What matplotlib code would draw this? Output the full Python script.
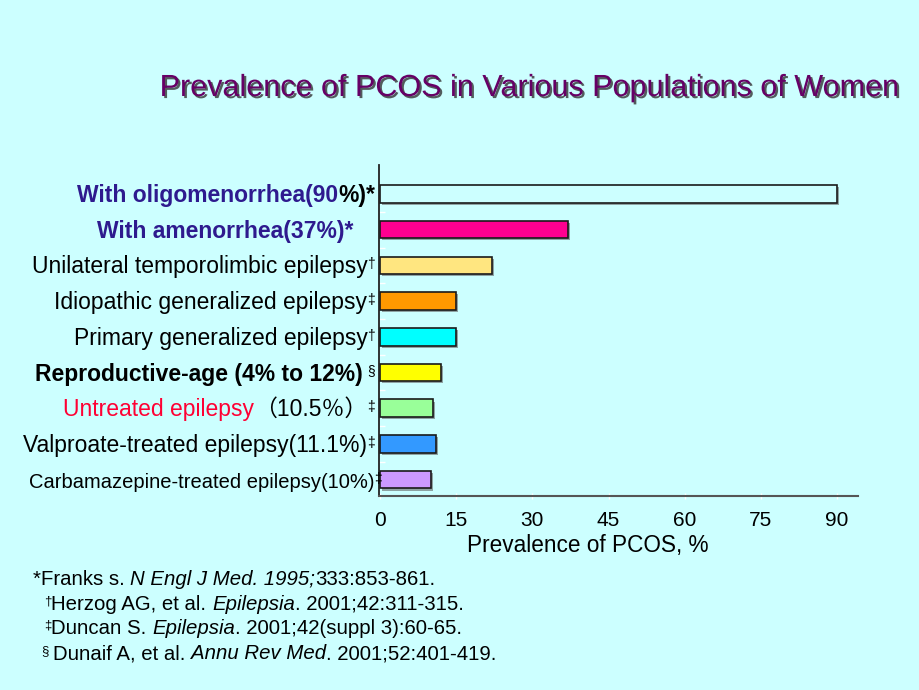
import numpy as np
import matplotlib
matplotlib.use('Agg')
import matplotlib.pyplot as plt
import matplotlib.patheffects as pe
from matplotlib.transforms import IdentityTransform

# chart data, top bar first
categories = [
    "With oligomenorrhea(90%)*",
    "With amenorrhea(37%)*",
    "Unilateral temporolimbic epilepsy",
    "Idiopathic generalized epilepsy",
    "Primary generalized epilepsy",
    "Reproductive-age (4% to 12%)",
    "Untreated epilepsy（10.5％）",
    "Valproate-treated epilepsy(11.1%)",
    "Carbamazepine-treated epilepsy(10%)",
]
refs = ["", "", "†", "‡", "†", "§", "‡", "‡", "‡"]
values = [90, 37, 22, 15, 15, 12, 10.5, 11.1, 10]
bar_colors = ["#CCFFFF", "#FF0090", "#FFE680", "#FF9900", "#00FFFF",
              "#FFFF00", "#99FF99", "#3399FF", "#CC99FF"]
xticks = [0, 15, 30, 45, 60, 75, 90]

title = "Prevalence of PCOS in Various Populations of Women"
xlabel = "Prevalence of PCOS, %"

# footnotes: (text, kind) runs, kind n=normal, i=italic, s=superscript
footnotes = [
    [("*Franks s. ", "n"), ("N Engl J Med. 1995;", "i"), ("333:853-861.", "n")],
    [("†", "s"), ("Herzog AG, et al. ", "n"), ("Epilepsia", "i"), (". 2001;42:311-315.", "n")],
    [("‡", "s"), ("Duncan S. ", "n"), ("Epilepsia", "i"), (". 2001;42(suppl 3):60-65.", "n")],
    [("§ ", "s"), ("Dunaif A, et al. ", "n"), ("Annu Rev Med", "i"), (". 2001;52:401-419.", "n")],
]

BG = "#CCFFFF"
BLUE = "#2E1A8E"
RED = "#FF0033"
FAM = ["Liberation Sans", "Noto Sans CJK SC", "DejaVu Sans"]
W, H = 920, 690

plt.rcParams['font.family'] = FAM

fig = plt.figure(figsize=(W / 100, H / 100), dpi=100, facecolor=BG)
ax = fig.add_axes([379 / W, 194 / H, 479 / W, 331 / H])
ax.set_facecolor(BG)

pos = np.arange(len(categories))
bars = ax.barh(pos, values, height=0.49, color=bar_colors,
               edgecolor="#1a1a1a", linewidth=1.2)
for b in bars:
    b.set_path_effects([pe.SimplePatchShadow(offset=(1.5, -1.5), shadow_rgbFace="#666666", alpha=0.6),
                        pe.Normal()])

ax.set_xlim(-0.2, 94.1)
ax.set_ylim(len(categories) - 1 + 0.457, -0.81)

ax.set_xticks(xticks)
ax.set_yticks(pos)
ax.set_yticklabels([])
ax.set_yticks(pos[:-1] + 0.5, minor=True)
ax.tick_params(axis='y', which='major', length=0)
ax.tick_params(axis='y', which='minor', length=4, width=1, color='white', direction='in')
ax.tick_params(axis='x', direction='inout', length=4, width=1, color='white',
               labelsize=15, pad=9)

for s in ("top", "right"):
    ax.spines[s].set_visible(False)
ax.spines["left"].set_color("#222222")
ax.spines["left"].set_linewidth(1.3)
ax.spines["bottom"].set_color("#555555")
ax.spines["bottom"].set_linewidth(1.5)

ax.set_xlabel(xlabel, fontsize=16.3)
ax.xaxis.label.set_va("baseline")
ax.xaxis.set_label_coords(0.435, -0.168)

# title with drop shadow
fig.text(528 / W, 1 - 96 / H, title, ha="center", va="baseline", fontsize=22,
         color="#660066",
         path_effects=[pe.withSimplePatchShadow(offset=(1.5, -1.5), shadow_rgbFace="#333333", alpha=0.8)])

renderer = fig.canvas.get_renderer()
ident = IdentityTransform()


def adv_width(s, props):
    a = fig.text(0, 0, "x" + s + "x", **props)
    b = fig.text(0, 0, "xx", **props)
    w = a.get_window_extent(renderer).width - b.get_window_extent(renderer).width
    a.remove()
    b.remove()
    return w


def draw_runs(runs, x, y, align="left"):
    # runs: (text, props, rise in px); x, y in display pixels, y = baseline
    widths = [adv_width(t, p) for t, p, _ in runs]
    if align == "right":
        x = x - sum(widths)
    for (t, p, rise), w in zip(runs, widths):
        fig.text(x, y + rise, t, ha="left", va="baseline", transform=ident, **p)
        x += w


# y-axis labels
label_color = [BLUE, BLUE, "black", "black", "black", "black", RED, "black", "black"]
label_bold = [True, True, False, False, False, True, False, False, False]
label_size = [16.5, 16.5, 16.5, 16.5, 16.5, 16.5, 16.5, 16.5, 14.5]
black_tail = {0: "%)*", 6: "（10.5％）"}
right_shift = {1: -22, 8: 7}
ref_gap = {5: 5}

for i, cat in enumerate(categories):
    base = dict(fontsize=label_size[i], family=FAM,
                fontweight="bold" if label_bold[i] else "normal")
    runs = []
    tail = black_tail.get(i)
    if tail and cat.endswith(tail):
        runs.append((cat[:-len(tail)], dict(base, color=label_color[i]), 0))
        runs.append((tail, dict(base, color="black"), 0))
    else:
        runs.append((cat, dict(base, color=label_color[i]), 0))
    if refs[i]:
        gap = ref_gap.get(i, 0)
        runs.append((refs[i], dict(fontsize=10, family=FAM, color="black"), 5))
    else:
        gap = 0
    y_disp = ax.transData.transform((0, pos[i]))[1] - 8
    x_right = 375 + right_shift.get(i, 0)
    if gap:
        # draw reference mark, then main text leaving a gap
        draw_runs(runs[-1:], x_right, y_disp, align="right")
        x_right -= adv_width(refs[i], runs[-1][1]) + gap
        draw_runs(runs[:-1], x_right, y_disp, align="right")
    else:
        draw_runs(runs, x_right, y_disp, align="right")

# footnotes
kinds = {
    "n": (dict(fontsize=14.7, family=FAM, color="black"), 0),
    "i": (dict(fontsize=14.7, family=FAM, color="black", style="italic"), 0),
    "s": (dict(fontsize=9.5, family=FAM, color="black"), 5),
}
foot_x = [33, 44, 44, 42]
foot_y = [585, 610, 634, 659]
for runs, fx, fy in zip(footnotes, foot_x, foot_y):
    draw_runs([(t, kinds[k][0], kinds[k][1]) for t, k in runs], fx, H - fy)

fig.savefig("out.png", dpi=100, facecolor=BG)
